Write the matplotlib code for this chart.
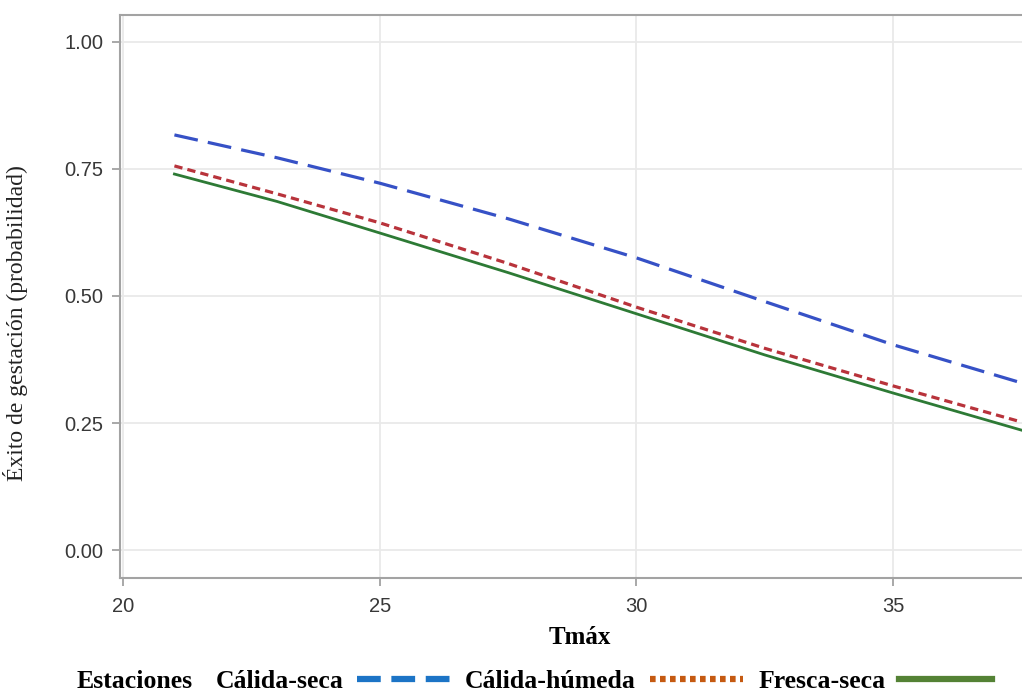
import numpy as np
import matplotlib.pyplot as plt
from matplotlib.lines import Line2D

# values (Tmax vs probability)
tmax = [21, 23, 25, 27.5, 30, 32.5, 35, 37.5]
calida_seca = [0.817, 0.772, 0.722, 0.652, 0.575, 0.489, 0.404, 0.329]
calida_humeda = [0.756, 0.701, 0.644, 0.564, 0.478, 0.397, 0.323, 0.252]
fresca_seca = [0.740, 0.686, 0.624, 0.546, 0.465, 0.384, 0.309, 0.236]

series_names = ["Cálida-seca", "Cálida-húmeda", "Fresca-seca"]
xticks = [20, 25, 30, 35]
yticks = [0.00, 0.25, 0.50, 0.75, 1.00]

fig = plt.figure(figsize=(10.22, 6.92), dpi=100)
ax = fig.add_axes([120/1022, 1 - 578/692, 902/1022, 563/692])

ax.plot(tmax, calida_seca, color="#3651c6", lw=2.3, dashes=(7.5, 3.2))
ax.plot(tmax, calida_humeda, color="#b8333b", lw=2.3, dashes=(2.6, 1.6))
ax.plot(tmax, fresca_seca, color="#2d7a35", lw=2.0)

ax.set_xlim(19.94, 37.51)
ax.set_ylim(-0.055, 1.053)
ax.set_xticks(xticks)
ax.set_yticks(yticks)
ax.set_xticklabels([str(v) for v in xticks])
ax.set_yticklabels(["%.2f" % v for v in yticks])
ax.grid(True, color="#e9e9e9", lw=1.3)
ax.set_axisbelow(True)

for s in ["left", "top", "bottom"]:
    ax.spines[s].set_color("#a3a3a3")
    ax.spines[s].set_linewidth(1.5)
ax.spines["right"].set_visible(False)

ax.tick_params(axis="both", colors="#999999", length=6, width=1.2,
               labelcolor="#383838", labelsize=14.5)
ax.tick_params(axis="x", pad=8)
ax.tick_params(axis="y", pad=6)
for lab in ax.get_xticklabels() + ax.get_yticklabels():
    lab.set_fontfamily("Liberation Sans")

ax.set_ylabel("Éxito de gestación (probabilidad)", family="Liberation Serif",
              fontsize=17, color="#222222")
ax.yaxis.set_label_coords(-0.102, 0.453)
ax.set_xlabel("Tmáx", family="Liberation Serif", fontsize=18,
              fontweight="bold", color="black")
ax.xaxis.set_label_coords(0.51, -0.085)

# legend along the bottom
fig.text(77/1022, 1 - 681/692, "Estaciones", family="Liberation Serif",
         fontsize=18.5, fontweight="bold", va="center", ha="left")
handles = [
    Line2D([], [], color="#1c74c6", lw=4.5, dashes=(3.8, 1.7)),
    Line2D([], [], color="#c55a11", lw=4.5, dashes=(0.9, 0.7)),
    Line2D([], [], color="#548235", lw=4.5),
]
fig.legend(handles, series_names, loc="center left",
           bbox_to_anchor=(205/1022, 1 - 681/692), ncol=3, frameon=False,
           markerfirst=False, handlelength=3.6, handletextpad=0.55,
           columnspacing=0.6, borderaxespad=0,
           prop={"family": "Liberation Serif", "size": 18.5, "weight": "bold"})

fig.savefig("out.png", dpi=100)
